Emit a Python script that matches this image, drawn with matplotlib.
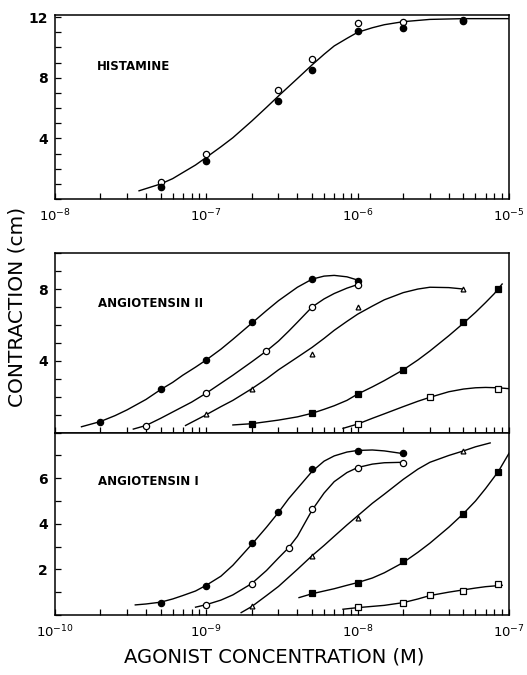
import matplotlib
matplotlib.use('Agg')
import matplotlib.pyplot as plt
from matplotlib.ticker import (LogLocator, NullFormatter, MultipleLocator, FixedLocator,
                               LogFormatterSciNotation)

# ---------- Histamina ----------
hist_x = [5e-8, 1e-7, 3e-7, 5e-7, 1e-6, 2e-6, 5e-6]
hist_abierto = [1.15, 2.96, 7.22, 9.26, 11.6, 11.67, 11.83]
hist_lleno = [0.78, 2.54, 6.48, 8.5, 11.07, 11.26, 11.76]
hist_curva_x = [3.6e-8, 5e-8, 6e-8, 7e-8, 8.5e-8, 1e-7, 1.25e-7, 1.5e-7, 2e-7, 2.5e-7,
                3e-7, 4e-7, 5e-7, 6e-7, 7e-7, 8.5e-7, 1e-6, 1.25e-6, 1.5e-6, 2e-6,
                3e-6, 5e-6, 1e-5]
hist_curva_y = [0.55, 1.0, 1.35, 1.75, 2.25, 2.75, 3.45, 4.05, 5.15, 6.05,
                6.8, 7.95, 8.85, 9.55, 10.1, 10.6, 11.0, 11.3, 11.5, 11.7,
                11.85, 11.9, 11.9]

# ---------- Angiotensina II ----------
a2_lleno_x = [2e-10, 5e-10, 1e-9, 2e-9, 5e-9, 1e-8]
a2_lleno_y = [0.61, 2.42, 4.06, 6.14, 8.56, 8.47]
a2_lleno_cx = [1.5e-10, 2e-10, 2.5e-10, 3e-10, 4e-10, 5e-10, 6e-10, 7e-10, 8.5e-10, 1e-9,
               1.25e-9, 1.5e-9, 2e-9, 2.5e-9, 3e-9, 4e-9, 5e-9, 6e-9, 7e-9, 8.5e-9, 1e-8]
a2_lleno_cy = [0.33, 0.62, 0.95, 1.27, 1.85, 2.4, 2.8, 3.2, 3.65, 4.05,
               4.65, 5.2, 6.1, 6.8, 7.35, 8.1, 8.55, 8.72, 8.76, 8.68, 8.5]

a2_abierto_x = [4e-10, 1e-9, 2.5e-9, 5e-9, 1e-8]
a2_abierto_y = [0.37, 2.2, 4.56, 7.0, 8.2]
a2_abierto_cx = [3.3e-10, 4e-10, 5e-10, 6e-10, 8e-10, 1e-9, 1.25e-9, 1.5e-9, 2e-9, 2.5e-9,
                 3e-9, 3.5e-9, 4e-9, 5e-9, 6e-9, 7e-9, 8.5e-9, 1e-8]
a2_abierto_cy = [0.2, 0.4, 0.8, 1.15, 1.7, 2.2, 2.75, 3.2, 3.95, 4.55,
                 5.1, 5.65, 6.15, 7.0, 7.45, 7.75, 8.05, 8.25]

a2_tri_x = [1e-9, 2e-9, 5e-9, 1e-8, 5e-8]
a2_tri_y = [1.02, 2.42, 4.37, 6.98, 8.0]
a2_tri_cx = [7.3e-10, 1e-9, 1.25e-9, 1.5e-9, 2e-9, 2.5e-9, 3e-9, 4e-9, 5e-9, 6e-9,
             7e-9, 8.5e-9, 1e-8, 1.25e-8, 1.5e-8, 2e-8, 2.5e-8, 3e-8, 4e-8, 5e-8]
a2_tri_cy = [0.4, 1.0, 1.45, 1.8, 2.45, 3.0, 3.5, 4.2, 4.75, 5.25,
             5.7, 6.2, 6.6, 7.05, 7.4, 7.8, 8.0, 8.1, 8.08, 8.0]

a2_cuad_x = [2e-9, 5e-9, 1e-8, 2e-8, 5e-8, 8.5e-8]
a2_cuad_y = [0.48, 1.08, 2.16, 3.48, 6.14, 8.0]
a2_cuad_cx = [1.5e-9, 2e-9, 3e-9, 4e-9, 5e-9, 6e-9, 7e-9, 8.5e-9, 1e-8, 1.25e-8,
              1.5e-8, 2e-8, 2.5e-8, 3e-8, 4e-8, 5e-8, 6e-8, 7e-8, 8e-8, 9e-8]
a2_cuad_cy = [0.43, 0.5, 0.7, 0.88, 1.08, 1.3, 1.5, 1.8, 2.15, 2.55,
              2.9, 3.5, 4.05, 4.55, 5.4, 6.1, 6.7, 7.25, 7.75, 8.28]

a2_cuad_ab_x = [1e-8, 3e-8, 8.5e-8]
a2_cuad_ab_y = [0.48, 1.97, 2.42]
a2_cuad_ab_cx = [8e-9, 1e-8, 1.25e-8, 1.5e-8, 2e-8, 2.5e-8, 3e-8, 4e-8, 5e-8, 6e-8,
                 7e-8, 8.5e-8, 1e-7]
a2_cuad_ab_cy = [0.24, 0.48, 0.8, 1.05, 1.45, 1.75, 1.97, 2.28, 2.43, 2.5,
                 2.52, 2.5, 2.45]

# ---------- Angiotensina I ----------
a1_lleno_x = [5e-10, 1e-9, 2e-9, 3e-9, 5e-9, 1e-8, 2e-8]
a1_lleno_y = [0.53, 1.29, 3.16, 4.53, 6.4, 7.2, 7.09]
a1_lleno_cx = [3.4e-10, 4e-10, 5e-10, 6e-10, 7e-10, 8.5e-10, 1e-9, 1.25e-9, 1.5e-9, 2e-9,
               2.5e-9, 3e-9, 3.5e-9, 4e-9, 5e-9, 6e-9, 7e-9, 8.5e-9, 1e-8, 1.25e-8,
               1.5e-8, 2e-8]
a1_lleno_cy = [0.44, 0.48, 0.56, 0.7, 0.85, 1.05, 1.3, 1.7, 2.18, 3.1,
               3.85, 4.5, 5.1, 5.55, 6.3, 6.75, 6.98, 7.15, 7.22, 7.24,
               7.2, 7.08]

a1_abierto_x = [1e-9, 2e-9, 3.5e-9, 5e-9, 1e-8, 2e-8]
a1_abierto_y = [0.44, 1.37, 2.94, 4.66, 6.47, 6.69]
a1_abierto_cx = [8.5e-10, 1e-9, 1.25e-9, 1.5e-9, 2e-9, 2.5e-9, 3e-9, 3.5e-9, 4e-9, 5e-9,
                 6e-9, 7e-9, 8.5e-9, 1e-8, 1.25e-8, 1.5e-8, 2e-8]
a1_abierto_cy = [0.34, 0.45, 0.65, 0.88, 1.38, 1.95, 2.5, 2.95, 3.45, 4.6,
                 5.35, 5.85, 6.25, 6.47, 6.62, 6.68, 6.7]

a1_tri_x = [2e-9, 5e-9, 1e-8, 5e-8]
a1_tri_y = [0.37, 2.6, 4.24, 7.2]
a1_tri_cx = [1.7e-9, 2e-9, 2.5e-9, 3e-9, 4e-9, 5e-9, 6e-9, 7e-9, 8.5e-9, 1e-8,
             1.25e-8, 1.5e-8, 2e-8, 2.5e-8, 3e-8, 4e-8, 5e-8, 6e-8, 7.5e-8]
a1_tri_cy = [0.1, 0.37, 0.85, 1.25, 2.0, 2.6, 3.05, 3.45, 3.95, 4.35,
             4.9, 5.3, 5.95, 6.4, 6.7, 7.0, 7.2, 7.38, 7.55]

a1_cuad_x = [5e-9, 1e-8, 2e-8, 5e-8, 8.5e-8]
a1_cuad_y = [0.96, 1.4, 2.35, 4.44, 6.28]
a1_cuad_cx = [4.1e-9, 5e-9, 6e-9, 7e-9, 8.5e-9, 1e-8, 1.25e-8, 1.5e-8, 2e-8, 2.5e-8,
              3e-8, 4e-8, 5e-8, 6e-8, 7e-8, 8.5e-8, 1e-7]
a1_cuad_cy = [0.76, 0.93, 1.05, 1.15, 1.3, 1.42, 1.62, 1.85, 2.3, 2.75,
              3.15, 3.85, 4.45, 5.0, 5.55, 6.3, 7.1]

a1_cuad_ab_x = [1e-8, 2e-8, 3e-8, 5e-8, 8.5e-8]
a1_cuad_ab_y = [0.34, 0.54, 0.88, 1.03, 1.37]
a1_cuad_ab_cx = [8e-9, 1e-8, 1.5e-8, 2e-8, 2.5e-8, 3e-8, 4e-8, 5e-8, 6e-8, 7e-8, 9e-8]
a1_cuad_ab_cy = [0.25, 0.32, 0.42, 0.54, 0.7, 0.85, 1.0, 1.1, 1.18, 1.24, 1.3]

ticks_arriba = [1e-8, 1e-7, 1e-6, 1e-5]
ticks_abajo = [1e-10, 1e-9, 1e-8, 1e-7]

plt.rcParams['font.family'] = 'DejaVu Sans'
plt.rcParams['xtick.direction'] = 'in'
plt.rcParams['ytick.direction'] = 'in'

fig = plt.figure(figsize=(5.27, 6.75), dpi=100)
izq, ancho = 0.104, 0.862
ax1 = fig.add_axes([izq, 0.705, ancho, 0.273])
ax2 = fig.add_axes([izq, 0.359, ancho, 0.266])
ax3 = fig.add_axes([izq, 0.089, ancho, 0.270], sharex=ax2)

lw = 1.0
ms = 4.5


def serie(ax, cx, cy, px, py, marker, relleno, tam=ms):
    ax.plot(cx, cy, color='black', lw=lw, zorder=2, solid_joinstyle='round')
    ax.plot(px, py, linestyle='none', marker=marker, markersize=tam,
            markerfacecolor=relleno, markeredgecolor='black', markeredgewidth=0.9, zorder=3)


# Histamina
ax1.plot(hist_curva_x, hist_curva_y, color='black', lw=lw, zorder=2, solid_joinstyle='round')
ax1.plot(hist_x, hist_abierto, 'o', ms=ms, mfc='white', mec='black', mew=0.9, zorder=3)
ax1.plot(hist_x, hist_lleno, 'o', ms=ms, mfc='black', mec='black', zorder=3)

# Angiotensina II
serie(ax2, a2_lleno_cx, a2_lleno_cy, a2_lleno_x, a2_lleno_y, 'o', 'black')
serie(ax2, a2_abierto_cx, a2_abierto_cy, a2_abierto_x, a2_abierto_y, 'o', 'white')
serie(ax2, a2_tri_cx, a2_tri_cy, a2_tri_x, a2_tri_y, '^', 'white', 3.5)
serie(ax2, a2_cuad_cx, a2_cuad_cy, a2_cuad_x, a2_cuad_y, 's', 'black', 4)
serie(ax2, a2_cuad_ab_cx, a2_cuad_ab_cy, a2_cuad_ab_x, a2_cuad_ab_y, 's', 'white', 4)

# Angiotensina I
serie(ax3, a1_lleno_cx, a1_lleno_cy, a1_lleno_x, a1_lleno_y, 'o', 'black')
serie(ax3, a1_abierto_cx, a1_abierto_cy, a1_abierto_x, a1_abierto_y, 'o', 'white')
serie(ax3, a1_tri_cx, a1_tri_cy, a1_tri_x, a1_tri_y, '^', 'white', 3.5)
serie(ax3, a1_cuad_cx, a1_cuad_cy, a1_cuad_x, a1_cuad_y, 's', 'black', 4)
serie(ax3, a1_cuad_ab_cx, a1_cuad_ab_cy, a1_cuad_ab_x, a1_cuad_ab_y, 's', 'white', 4)

for ax in (ax1, ax2, ax3):
    ax.set_xscale('log')

ax1.set_xlim(1e-8, 1e-5)
ax1.set_ylim(0, 12.15)
ax2.set_xlim(1e-10, 1e-7)
ax2.set_ylim(0, 10)
ax3.set_ylim(0, 8)

ax1.xaxis.set_major_locator(FixedLocator(ticks_arriba))
for ax in (ax2, ax3):
    ax.xaxis.set_major_locator(FixedLocator(ticks_abajo))

for ax in (ax1, ax2, ax3):
    ax.xaxis.set_major_formatter(LogFormatterSciNotation())
    ax.xaxis.set_minor_locator(LogLocator(base=10, subs=range(2, 10)))
    ax.xaxis.set_minor_formatter(NullFormatter())
    ax.yaxis.set_minor_locator(MultipleLocator(1))
    ax.tick_params(which='both', length=4, width=0.9, top=False, right=False)
    ax.tick_params(axis='x', labelsize=9.5, pad=6)
    ax.tick_params(axis='y', labelsize=10, pad=5)
    for s in ax.spines.values():
        s.set_linewidth(1.1)

ax1.yaxis.set_major_locator(FixedLocator([4, 8, 12]))
ax2.yaxis.set_major_locator(FixedLocator([4, 8]))
ax3.yaxis.set_major_locator(FixedLocator([2, 4, 6]))
for ax in (ax1, ax2, ax3):
    for lab in ax.get_yticklabels():
        lab.set_fontweight('bold')
ax2.tick_params(axis='x', labelbottom=False)

ax1.text(0.093, 0.717, 'HISTAMINE', transform=ax1.transAxes, fontsize=8.5,
         fontweight='bold', va='center')
ax2.text(0.095, 0.72, 'ANGIOTENSIN II', transform=ax2.transAxes, fontsize=8.5,
         fontweight='bold', va='center')
ax3.text(0.095, 0.73, 'ANGIOTENSIN I', transform=ax3.transAxes, fontsize=8.5,
         fontweight='bold', va='center')

fig.text(0.032, 0.545, 'CONTRACTION (cm)', rotation=90, fontsize=14.5,
         ha='center', va='center')
fig.text(0.52, 0.012, 'AGONIST CONCENTRATION (M)', fontsize=14,
         ha='center', va='bottom')

fig.savefig('out.png', dpi=100)
plt.close()
